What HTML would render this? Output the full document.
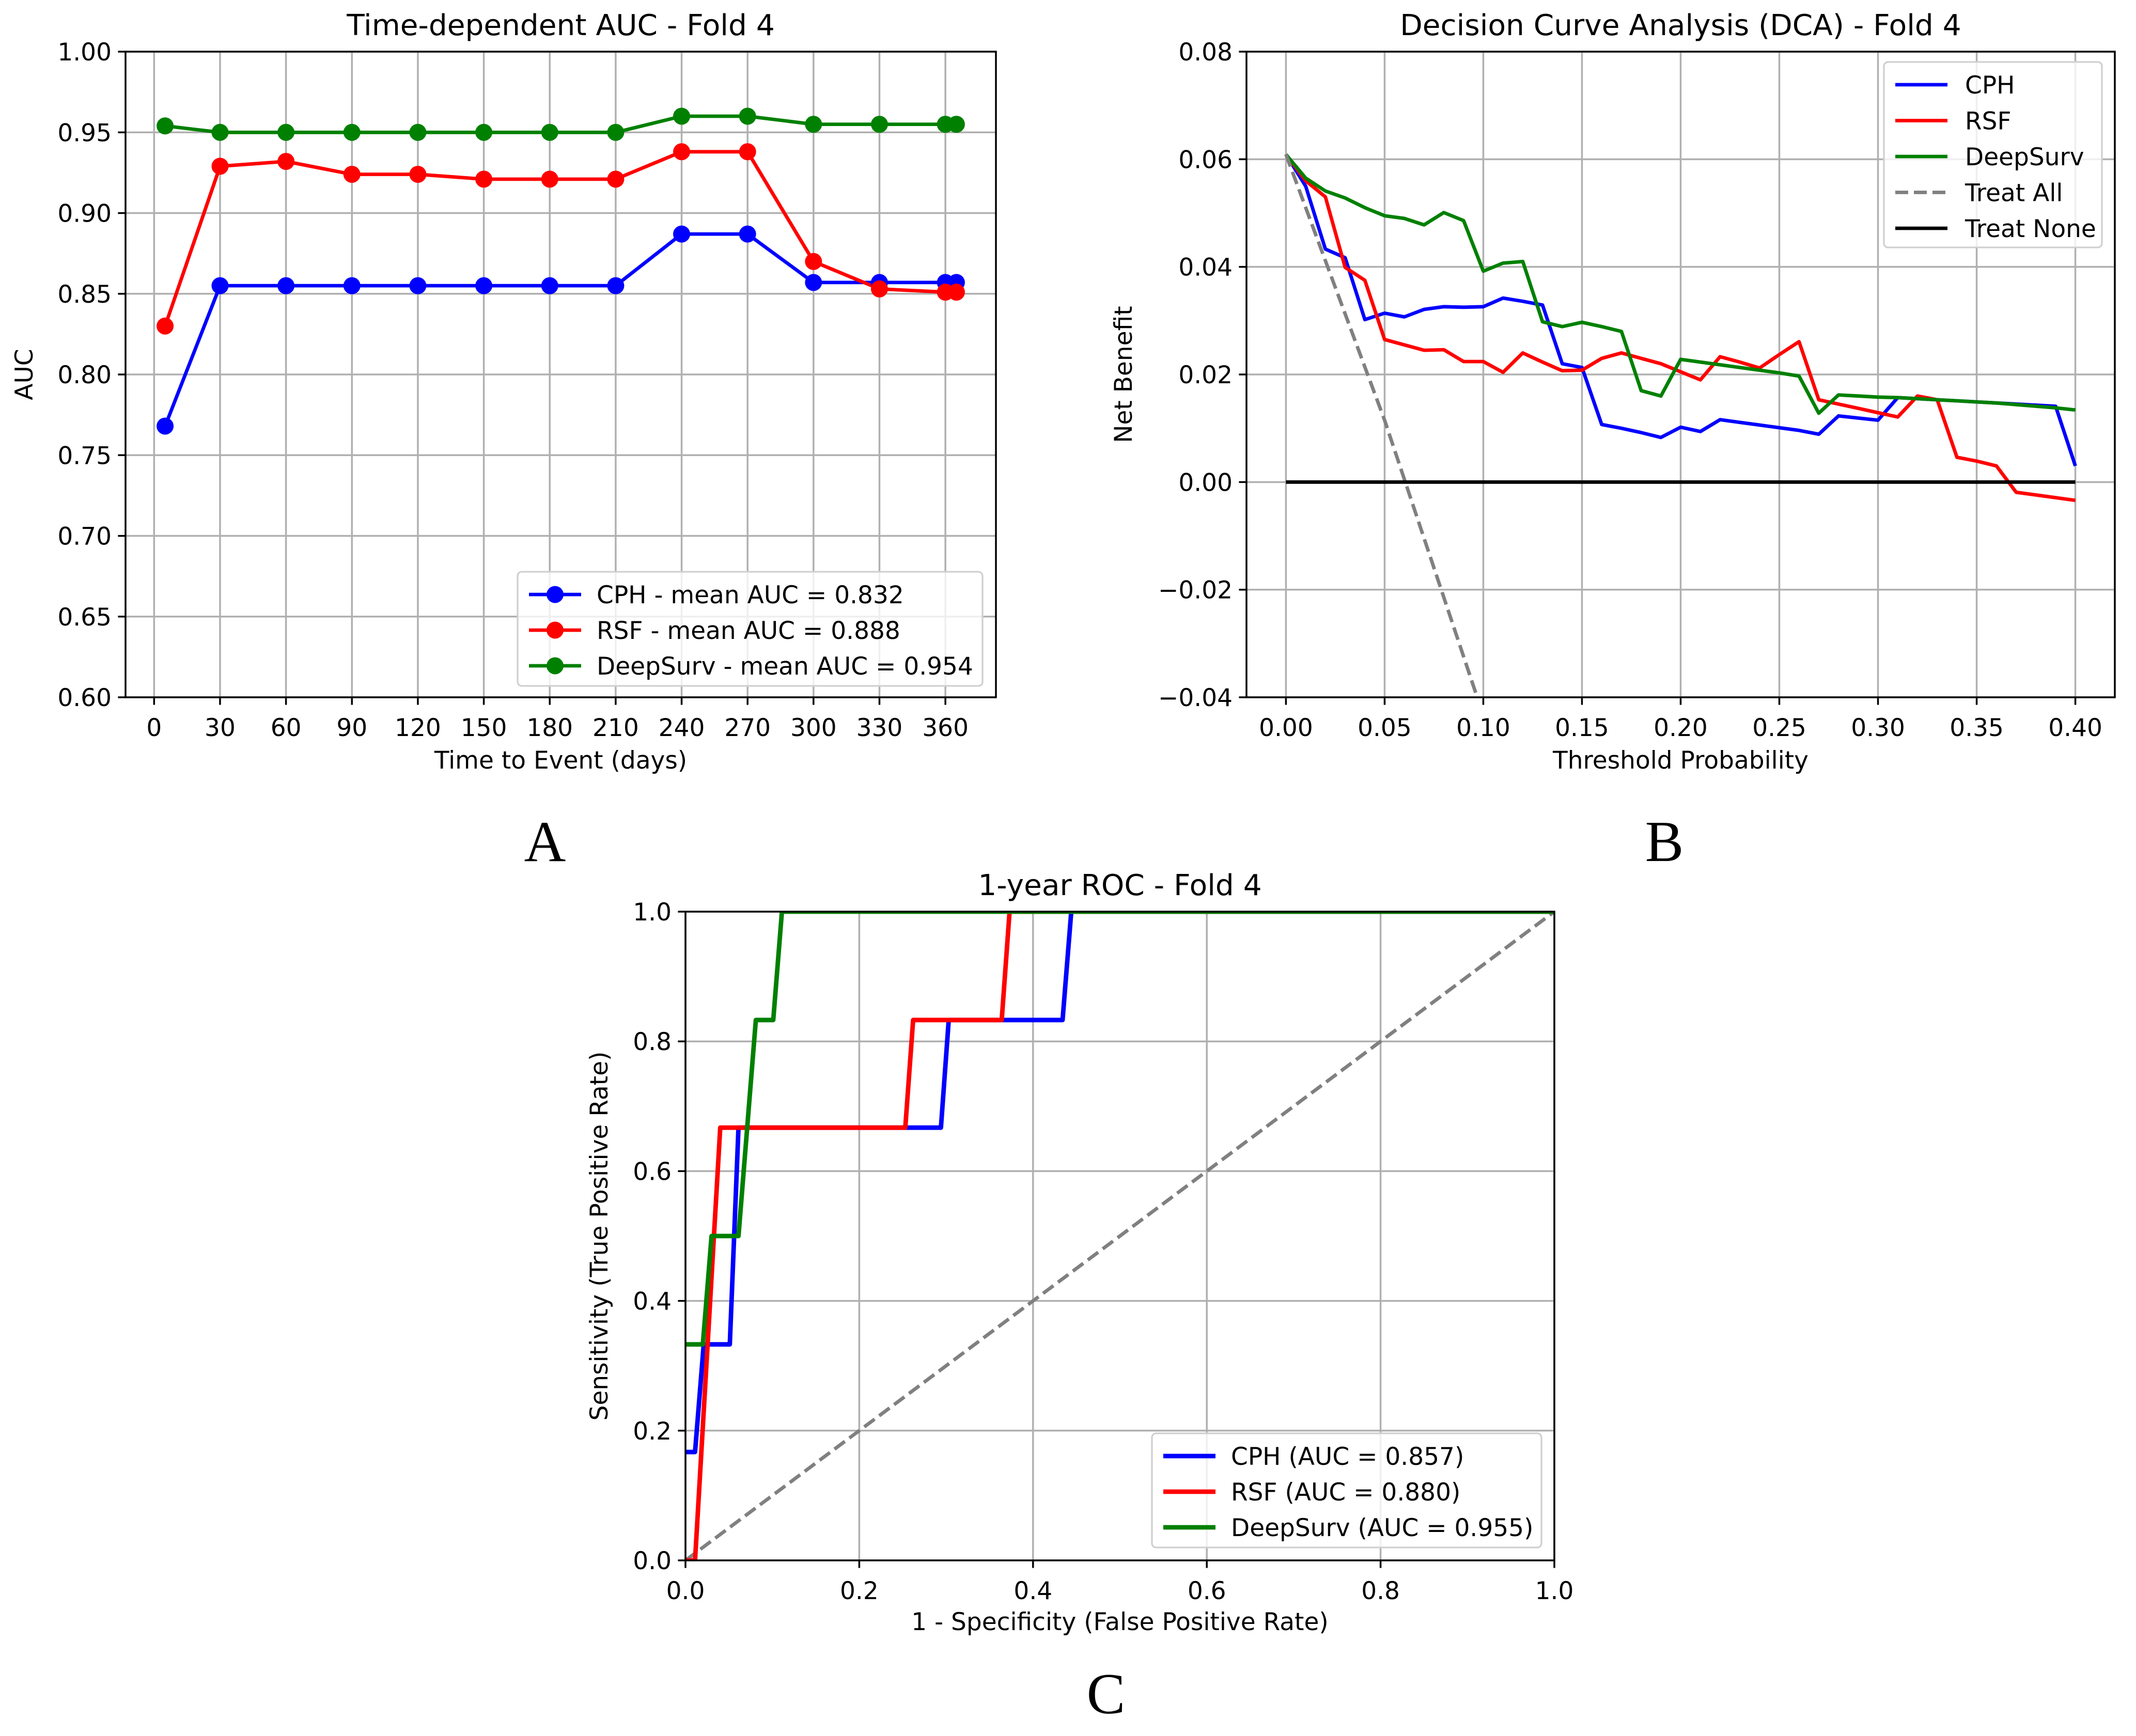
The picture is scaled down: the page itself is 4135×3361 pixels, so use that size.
<!DOCTYPE html>
<html><head><meta charset="utf-8"><style>
html,body{margin:0;padding:0;background:#fff;}
svg{display:block;font-family:"DejaVu Sans","Liberation Sans",sans-serif;}
</style></head><body>
<svg id="fig" width="4135" height="3361" viewBox="0 0 4135 3361" xmlns="http://www.w3.org/2000/svg">
<rect width="4135" height="3361" fill="#fff"/>
<text x="1055" y="1667" font-family="Liberation Serif, serif" font-size="112" text-anchor="middle">A</text>
<text x="3222" y="1667" font-family="Liberation Serif, serif" font-size="112" text-anchor="middle">B</text>
<text x="2141" y="3317" font-family="Liberation Serif, serif" font-size="112" text-anchor="middle">C</text>
</svg>
<script>
// ---- Panel A data ----
const aDays = [5,30,60,90,120,150,180,210,240,270,300,330,360,365];
const aCPH = [0.768,0.855,0.855,0.855,0.855,0.855,0.855,0.855,0.887,0.887,0.857,0.857,0.857,0.857];
const aRSF = [0.830,0.929,0.932,0.924,0.924,0.921,0.921,0.921,0.938,0.938,0.870,0.853,0.851,0.851];
const aDeep = [0.954,0.950,0.950,0.950,0.950,0.950,0.950,0.950,0.960,0.960,0.955,0.955,0.955,0.955];
const aXTicks = [0,30,60,90,120,150,180,210,240,270,300,330,360];
const aYTicks = [0.60,0.65,0.70,0.75,0.80,0.85,0.90,0.95,1.00];
// ---- Panel B data ----
const bThr = [0,0.01,0.02,0.03,0.04,0.05,0.06,0.07,0.08,0.09,0.10,0.11,0.12,0.13,0.14,0.15,0.16,0.17,0.18,0.19,0.20,0.21,0.22,0.23,0.24,0.25,0.26,0.27,0.28,0.29,0.30,0.31,0.32,0.33,0.34,0.35,0.36,0.37,0.38,0.39,0.40];
const bCPH = [0.0609,0.055,0.0433,0.0417,0.0302,0.0314,0.0307,0.0321,0.0326,0.0325,0.0326,0.0342,0.0336,0.0329,0.022,0.0213,0.0107,0.0100,0.0092,0.0083,0.0102,0.0094,0.0116,0.0111,0.0106,0.0101,0.0096,0.0089,0.0123,0.0119,0.0115,0.0157,0.0155,0.0153,0.0151,0.0149,0.0147,0.0145,0.0143,0.0141,0.003];
const bRSF = [0.0609,0.056,0.053,0.0399,0.0375,0.0265,0.0255,0.0245,0.0246,0.0224,0.0224,0.0204,0.024,0.0223,0.0207,0.0208,0.023,0.024,0.023,0.022,0.0205,0.019,0.0233,0.0223,0.0212,0.0237,0.0261,0.0153,0.0145,0.0137,0.0129,0.0121,0.016,0.0153,0.0046,0.0039,0.003,-0.0019,-0.0024,-0.0029,-0.0034];
const bDeep = [0.0609,0.0565,0.0541,0.0528,0.051,0.0495,0.049,0.0478,0.0501,0.0486,0.0392,0.0407,0.041,0.0298,0.0289,0.0297,0.0289,0.028,0.017,0.016,0.0228,0.0223,0.0218,0.0213,0.0208,0.0203,0.0197,0.0128,0.0162,0.016,0.0158,0.0157,0.0155,0.0153,0.0151,0.0149,0.0147,0.0144,0.0141,0.0138,0.0134];
const bAllThr = [0,0.05,0.10,0.15];
const bAll = [0.0609,0.0115,-0.0434,-0.1048];
const bNoneThr = [0,0.40];
const bNone = [0,0];
const bXTicks = [0,0.05,0.10,0.15,0.20,0.25,0.30,0.35,0.40];
const bYTicks = [-0.04,-0.02,0,0.02,0.04,0.06,0.08];
// ---- Panel C data ----
const cCPHx = [0,0.011,0.021,0.051,0.061,0.294,0.303,0.434,0.444,1];
const cCPHy = [0.167,0.167,0.333,0.333,0.667,0.667,0.833,0.833,1,1];
const cRSFx = [0,0.011,0.040,0.253,0.262,0.364,0.373,1];
const cRSFy = [0,0,0.667,0.667,0.833,0.833,1,1];
const cDeepx = [0,0.020,0.030,0.061,0.081,0.101,0.111,1];
const cDeepy = [0.333,0.333,0.5,0.5,0.833,0.833,1,1];
const cDiagx = [0,1];
const cDiagy = [0,1];
const cTicks = [0,0.2,0.4,0.6,0.8,1.0];

const NS="http://www.w3.org/2000/svg";
const svg=document.getElementById('fig');
function mk(tag,attrs,parent){const e=document.createElementNS(NS,tag);for(const k in attrs)e.setAttribute(k,attrs[k]);(parent||svg).appendChild(e);return e;}
const FS=47;

function axes(id,L,R,T,B,xmin,xmax,ymin,ymax,xt,yt,xfmt,yfmt,title,titleY,xlabel,xlabY,ylabel,ylabX){
  const g=mk('g',{});
  
  
  const sx=v=>L+(v-xmin)/(xmax-xmin)*(R-L);
  const sy=v=>B-(v-ymin)/(ymax-ymin)*(B-T);
  xt.forEach(v=>{
    const l=mk('line',{x1:sx(v),x2:sx(v),y1:T,y2:B,stroke:'#b0b0b0','stroke-width':3.5},g);
    
    
    mk('line',{x1:sx(v),x2:sx(v),y1:B,y2:B+14.6,stroke:'#000','stroke-width':3.5},g);
    const t=mk('text',{x:sx(v),y:B+75,'font-size':FS,'text-anchor':'middle'},g);
    t.textContent=xfmt(v);
    
    
  });
  yt.forEach(v=>{
    const l=mk('line',{x1:L,x2:R,y1:sy(v),y2:sy(v),stroke:'#b0b0b0','stroke-width':3.5},g);
    
    
    mk('line',{x1:L-14.6,x2:L,y1:sy(v),y2:sy(v),stroke:'#000','stroke-width':3.5},g);
    const t=mk('text',{x:L-27,y:sy(v)+17,'font-size':FS,'text-anchor':'end'},g);
    t.textContent=yfmt(v);
    
    
  });
  const tt=mk('text',{x:(L+R)/2,y:titleY,'font-size':56.5,'text-anchor':'middle'},g);
  tt.textContent=title;
  
  
  const xl=mk('text',{x:(L+R)/2,y:xlabY,'font-size':FS,'text-anchor':'middle'},g);
  xl.textContent=xlabel;
  
  
  const yl=mk('text',{x:ylabX,y:(T+B)/2,'font-size':FS,'text-anchor':'middle',transform:`rotate(-90 ${ylabX} ${(T+B)/2})`},g);
  yl.textContent=ylabel;
  
  
  const cp=mk('clipPath',{id:id+'-clip'},g);
  mk('rect',{x:L,y:T,width:R-L,height:B-T},cp);
  const plot=mk('g',{'clip-path':`url(#${id}-clip)`},g);
  return {g,plot,sx,sy,frame:()=>{const f=mk('rect',{x:L,y:T,width:R-L,height:B-T,fill:'none',stroke:'#000','stroke-width':3.5},g);}};
}
function series(ax,xs,ys,color,w,name,dash,markers){
  const pts=xs.map((x,i)=>ax.sx(x).toFixed(1)+','+ax.sy(ys[i]).toFixed(1)).join(' ');
  const a={points:pts,fill:'none',stroke:color,'stroke-width':w,'stroke-linejoin':'round'};
  if(dash)a['stroke-dasharray']=dash;
  const p=mk('polyline',a,ax.plot);
  
  
  if(markers){xs.forEach((x,i)=>{
    const c=mk('circle',{cx:ax.sx(x),cy:ax.sy(ys[i]),r:16.5,fill:color},ax.g);
    
    
  });}
}
function legend(x,y,w,h,items,rowH,handleW,textX,lw,name,markers){
  const g=mk('g',{});
  
  
  mk('rect',{x,y,width:w,height:h,rx:8,fill:'#fff','fill-opacity':0.8,stroke:'#d0d0d0','stroke-width':3.3},g);
  items.forEach((it,i)=>{
    const cy=y+44+i*rowH;
    const a={x1:x+22,x2:x+22+handleW,y1:cy,y2:cy,stroke:it[1],'stroke-width':lw};
    if(it[2])a['stroke-dasharray']=it[2];
    mk('line',a,g);
    if(markers)mk('circle',{cx:x+22+handleW/2,cy,r:16.5,fill:it[1]},g);
    const t=mk('text',{x:x+textX,y:cy+17,'font-size':FS},g);
    t.textContent=it[0];
    
    
  });
}

// Panel A
const A=axes('auc',243,1928,100,1350,-13,383,0.60,1.00,aXTicks,aYTicks,v=>String(v),v=>v.toFixed(2),'Time-dependent AUC - Fold 4',68,'Time to Event (days)',1488,'AUC',63);
series(A,aDays,aCPH,'#0000ff',6.8,'cph-auc-line',null,true);
series(A,aDays,aRSF,'#ff0000',6.8,'rsf-auc-line',null,true);
series(A,aDays,aDeep,'#008000',6.8,'deepsurv-auc-line',null,true);
A.frame();
legend(1002,1107,900,221,[['CPH - mean AUC = 0.832','#0000ff'],['RSF - mean AUC = 0.888','#ff0000'],['DeepSurv - mean AUC = 0.954','#008000']],69,101,153,6.8,'auc-legend',true);

// Panel B
const Bx=axes('dca',2413,4094,100,1350,-0.02,0.42,-0.04,0.08,bXTicks,bYTicks,v=>v.toFixed(2),v=>(v<0?'\u2212':'')+Math.abs(v).toFixed(2),'Decision Curve Analysis (DCA) - Fold 4',68,'Threshold Probability',1488,'Net Benefit',2191);
series(Bx,bThr,bCPH,'#0000ff',6.8,'cph-dca-line');
series(Bx,bThr,bRSF,'#ff0000',6.8,'rsf-dca-line');
series(Bx,bThr,bDeep,'#008000',6.8,'deepsurv-dca-line');
series(Bx,bAllThr,bAll,'#808080',6.8,'treat-all-line','25,11');
series(Bx,bNoneThr,bNone,'#000000',6.8,'treat-none-line');
Bx.frame();
legend(3647,120,422,359,[['CPH','#0000ff'],['RSF','#ff0000'],['DeepSurv','#008000'],['Treat All','#808080','25,11'],['Treat None','#000000']],69.5,101,157,6.8,'dca-legend',false);

// Panel C
const C=axes('roc',1327,3009,1765,3021,0,1,0,1,cTicks,cTicks,v=>v.toFixed(1),v=>v.toFixed(1),'1-year ROC - Fold 4',1733,'1 - Specificity (False Positive Rate)',3156,'Sensitivity (True Positive Rate)',1176);
series(C,cDiagx,cDiagy,'#808080',6.8,'chance-diagonal','25,11');
series(C,cCPHx,cCPHy,'#0000ff',8.8,'cph-roc-curve');
series(C,cRSFx,cRSFy,'#ff0000',8.8,'rsf-roc-curve');
series(C,cDeepx,cDeepy,'#008000',8.8,'deepsurv-roc-curve');
C.frame();
legend(2230,2775,754,221,[['CPH (AUC = 0.857)','#0000ff'],['RSF (AUC = 0.880)','#ff0000'],['DeepSurv (AUC = 0.955)','#008000']],69,101,153,8.8,'roc-legend',false);
</script>
</body></html>
